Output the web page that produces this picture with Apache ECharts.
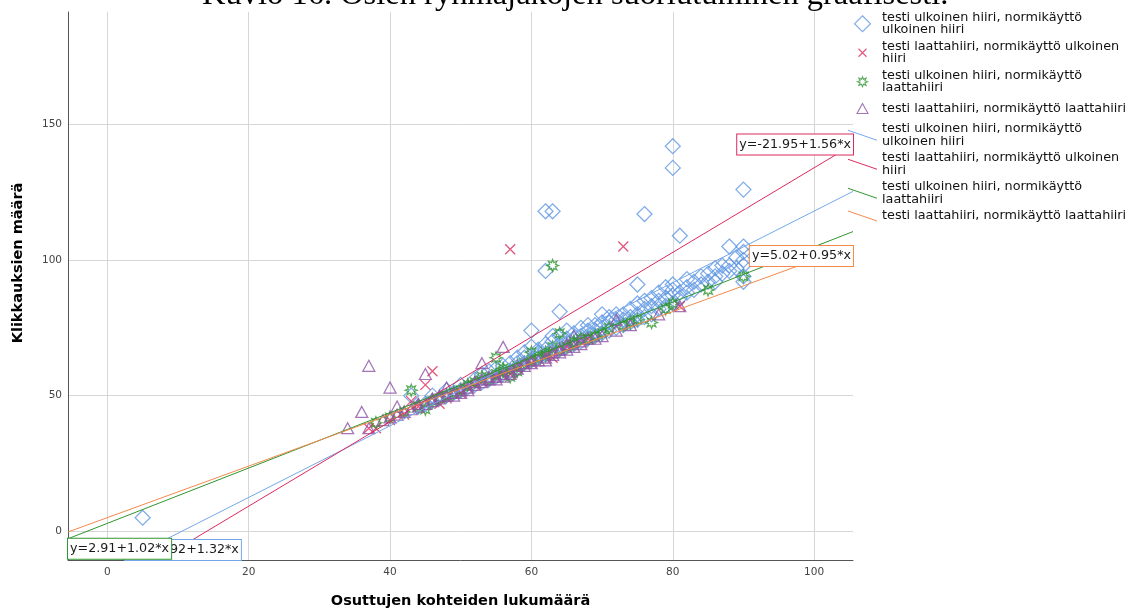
<!DOCTYPE html>
<html><head><meta charset="utf-8">
<script src="https://cdn.jsdelivr.net/npm/echarts@6/dist/echarts.min.js"></script>
<style>html,body{margin:0;padding:0;background:#fff}#c{width:1129px;height:614px}</style>
</head><body><div id="c"></div><script>
const titleText = 'Kuvio 16. Osien ryhmäjakojen suoriutuminen graafisesti.';
const xAxisTitle = 'Osuttujen kohteiden lukumäärä';
const yAxisTitle = 'Klikkauksien määrä';
const xTicks = [0, 20, 40, 60, 80, 100];
const yTicks = [0, 50, 100, 150];
const groupNames = [
  'testi ulkoinen hiiri, normikäyttö\nulkoinen hiiri',
  'testi laattahiiri, normikäyttö ulkoinen\nhiiri',
  'testi ulkoinen hiiri, normikäyttö\nlaattahiiri',
  'testi laattahiiri, normikäyttö laattahiiri'
];
const lineNamePrefix = 'Sovitus: ';

// group 1: testi ulkoinen hiiri, normikäyttö ulkoinen hiiri
const blueData = [[5,5],[43,50],[44,46],[45,47],[46,48],[46,50],[47,49],[48,50],[48,52],[49,51],[50,52],[50,54],[51,53],[52,54],[52,56],[53,55],[53,58],[54,56],[54,59],[55,57],[55,60],[56,58],[56,61],[57,59],[57,62],[58,60],[58,62],[58,64],[59,62],[59,64],[59,66],[60,63],[60,68],[60,74],[61,64],[61,66],[61,67],[62,65],[62,67],[62,69],[62,96],[62,118],[63,66],[63,70],[63,72],[63,118],[64,67],[64,69],[64,72],[64,81],[65,68],[65,71],[65,74],[66,69],[66,71],[66,73],[67,70],[67,72],[67,75],[68,71],[68,74],[68,76],[69,72],[69,74],[69,76],[70,73],[70,75],[70,77],[70,80],[71,74],[71,77],[71,79],[72,75],[72,78],[72,80],[73,76],[73,78],[73,80],[74,77],[74,79],[74,82],[75,78],[75,80],[75,84],[75,91],[76,79],[76,82],[76,85],[76,117],[77,80],[77,83],[77,86],[78,82],[78,85],[78,88],[79,83],[79,86],[79,90],[80,84],[80,87],[80,89],[80,91],[80,134],[80,142],[81,86],[81,88],[81,109],[82,88],[82,90],[82,93],[83,89],[83,92],[84,91],[84,94],[85,92],[85,95],[86,92],[86,94],[86,97],[87,95],[87,98],[88,96],[88,98],[88,105],[89,97],[89,101],[90,92],[90,94],[90,98],[90,100],[90,103],[90,105],[90,126]];
// group 2: testi laattahiiri, normikäyttö ulkoinen hiiri
const redData = [[37,38],[38,38],[40,41],[42,43],[43,48],[44,46],[45,54],[46,59],[47,47],[48,49],[50,51],[51,53],[52,54],[53,55],[55,57],[56,58],[57,104],[57,58],[58,60],[60,62],[62,65],[63,64],[65,68],[68,71],[73,105],[81,83]];
// group 3: testi ulkoinen hiiri, normikäyttö laattahiiri
const greenData = [[38,40],[40,42],[42,44],[43,52],[44,46],[45,45],[46,48],[47,49],[48,50],[49,51],[50,52],[51,54],[52,55],[53,57],[54,56],[55,58],[55,64],[56,59],[56,60],[57,57],[58,59],[58,61],[59,62],[60,63],[60,66],[61,64],[62,65],[62,66],[63,98],[63,68],[64,73],[64,67],[65,68],[66,69],[66,70],[67,71],[68,71],[69,72],[70,73],[71,75],[73,76],[74,77],[75,78],[77,77],[79,82],[80,84],[85,89],[90,94]];
// group 4: testi laattahiiri, normikäyttö laattahiiri
const purpleData = [[34,38],[36,44],[37,61],[37,38],[39,41],[40,53],[40,42],[41,46],[41,43],[42,44],[43,45],[44,46],[44,47],[45,58],[45,47],[46,48],[46,49],[47,49],[47,50],[48,53],[48,50],[49,51],[49,50],[50,52],[50,51],[51,53],[51,52],[52,54],[52,55],[53,62],[53,55],[53,56],[54,56],[54,57],[55,57],[55,56],[56,68],[56,58],[56,57],[57,59],[57,58],[58,60],[58,61],[59,61],[59,62],[60,62],[60,63],[61,63],[62,64],[62,63],[63,65],[63,66],[64,66],[64,67],[65,67],[65,69],[66,72],[66,68],[67,70],[67,69],[68,71],[69,71],[70,72],[72,78],[72,74],[74,76],[78,80],[81,83]];

// fit lines (visible segment ends)
const fitBlue = [[2.52, -10.6], [105.5, 125.34]];
const fitRed = [[7.28, -10.6], [105.5, 142.63]];
const fitGreen = [[-5.56, -2.76], [105.5, 110.52]];
const fitOrange = [[-5.56, -0.26], [105.5, 105.24]];
const fitEquations = ['y=-13.92+1.32*x', 'y=-21.95+1.56*x', 'y=2.91+1.02*x', 'y=5.02+0.95*x'];

const C = { blue: '#5f97e4', blueLine: '#74a7ea', red: '#dc2a5d', green: '#2f962f', purple: '#8d53a5', orange: '#f38a4c' };
const FONT = 'DejaVu Sans';

function starPath(cx, cy, R, r, n) {
  let d = '';
  for (let i = 0; i < 2 * n; i++) {
    const a = Math.PI * i / n - Math.PI / 2;
    const rad = i % 2 === 0 ? R : r;
    d += (i ? 'L' : 'M') + (cx + rad * Math.cos(a)).toFixed(2) + ',' + (cy + rad * Math.sin(a)).toFixed(2);
  }
  return d + 'Z';
}
const SYM = {
  diamond: 'path://M7,0L14,7L7,14L0,7Z',
  cross: 'path://M0,0L10,10M10,0L0,10',
  star: 'path://' + starPath(10, 10, 10, 5.2, 8),
  triangle: 'path://M6,0L12,11L0,11Z'
};
const ICON = {
  diamond: 'path://M8,0L16,8L8,16L0,8Z',
  cross: 'path://M0,0M16,16M4,4L12,12M12,4L4,12',
  star: 'path://M0,0M16,16' + starPath(8, 8, 5, 2.6, 8),
  triangle: 'path://M0,0M16,16M8,3L13.5,13L2.5,13Z',
  line: 'path://M0,0L29,10L29,11.1L0,1.1Z'
};

function scatterSeries(name, data, symbol, size, color) {
  return {
    type: 'scatter', name, data, symbol, symbolSize: size,
    itemStyle: { color: 'none', borderColor: color, borderWidth: 1.25 },
    emphasis: { disabled: true }, silent: true, z: 2
  };
}
function eqLabel(color, align, vAlign, text) {
  return {
    show: true, position: 'inside', align, verticalAlign: vAlign, formatter: text,
    backgroundColor: '#fff', borderColor: color, borderWidth: 1, padding: [3, 2, 3, 2],
    fontFamily: FONT, fontSize: 12.7, lineHeight: 14, color: '#1a1a1a'
  };
}
function lineSeries(name, data, color, markCoord, label) {
  return {
    type: 'line', name: lineNamePrefix + name, data, symbol: 'none', showSymbol: false,
    lineStyle: { color, width: 1 }, itemStyle: { color }, clip: true, silent: true, z: 3,
    emphasis: { disabled: true },
    markPoint: {
      symbol: 'circle', symbolSize: 1, itemStyle: { color: 'transparent' }, silent: true, animation: false,
      data: [{ coord: markCoord, label }]
    }
  };
}
function scatterLegend(name, icon, color) {
  return { name, icon, itemStyle: { color: 'none', borderColor: color, borderWidth: 1.1 } };
}
function lineLegend(name, color) {
  return { name: lineNamePrefix + name, icon: ICON.line, itemStyle: { color, borderColor: color, borderWidth: 0 } };
}

const chart = echarts.init(document.getElementById('c'), null, { renderer: 'canvas' });
chart.setOption({
  animation: false,
  backgroundColor: '#fff',
  title: {
    text: titleText, left: 202, top: -21, padding: 0,
    textStyle: { fontFamily: 'Liberation Serif', fontSize: 32.5, fontWeight: 'normal', color: '#000', lineHeight: 32 }
  },
  grid: { left: 68, right: 276, top: 12, bottom: 49, containLabel: false },
  xAxis: {
    type: 'value', min: -5.56, max: 105.5,
    name: xAxisTitle, nameLocation: 'middle', nameGap: 33,
    nameTextStyle: { fontFamily: FONT, fontSize: 14.5, fontWeight: 'bold', color: '#000', lineHeight: 16 },
    axisLine: { show: true, onZero: false, lineStyle: { color: '#555', width: 1 } },
    axisTick: { show: false, customValues: xTicks },
    axisLabel: { customValues: xTicks, margin: 7, fontFamily: FONT, fontSize: 10.5, color: '#444' },
    splitLine: { show: true, lineStyle: { color: '#d6d6d6', width: 1 } }
  },
  yAxis: {
    type: 'value', min: -10.6, max: 191.5,
    name: yAxisTitle, nameLocation: 'middle', nameGap: 42, nameRotate: 90,
    nameTextStyle: { fontFamily: FONT, fontSize: 14.5, fontWeight: 'bold', color: '#000', padding: [0, 0, 0, 46] },
    axisLine: { show: true, onZero: false, lineStyle: { color: '#555', width: 1 } },
    axisTick: { show: false, customValues: yTicks },
    axisLabel: { customValues: yTicks, margin: 6, fontFamily: FONT, fontSize: 10.5, color: '#444' },
    splitLine: { show: true, lineStyle: { color: '#d6d6d6', width: 1 } }
  },
  legend: {
    orient: 'vertical', left: 848, top: 11, padding: 0, itemGap: 3.5,
    itemWidth: 29, itemHeight: 16, selectedMode: false,
    textStyle: { fontFamily: FONT, fontSize: 12.8, lineHeight: 12.5, color: '#111' },
    formatter: n => n.replace(lineNamePrefix, ''),
    data: [
      scatterLegend(groupNames[0], ICON.diamond, C.blue),
      scatterLegend(groupNames[1], ICON.cross, C.red),
      scatterLegend(groupNames[2], ICON.star, C.green),
      scatterLegend(groupNames[3], ICON.triangle, C.purple),
      lineLegend(groupNames[0], C.blueLine),
      lineLegend(groupNames[1], C.red),
      lineLegend(groupNames[2], C.green),
      lineLegend(groupNames[3], C.orange)
    ]
  },
  series: [
    scatterSeries(groupNames[0], blueData, SYM.diamond, 15, C.blue),
    scatterSeries(groupNames[1], redData, SYM.cross, 10, C.red),
    scatterSeries(groupNames[2], greenData, SYM.star, 12, C.green),
    scatterSeries(groupNames[3], purpleData, SYM.triangle, [12, 11], C.purple),
    lineSeries(groupNames[0], fitBlue, C.blueLine, fitBlue[0], eqLabel(C.blueLine, 'left', 'bottom', fitEquations[0])),
    lineSeries(groupNames[1], fitRed, C.red, fitRed[1], eqLabel(C.red, 'right', 'middle', fitEquations[1])),
    lineSeries(groupNames[2], fitGreen, C.green, fitGreen[0], eqLabel(C.green, 'left', 'top', fitEquations[2])),
    lineSeries(groupNames[3], fitOrange, C.orange, fitOrange[1], eqLabel(C.orange, 'right', 'top', fitEquations[3]))
  ]
});
</script></body></html>
